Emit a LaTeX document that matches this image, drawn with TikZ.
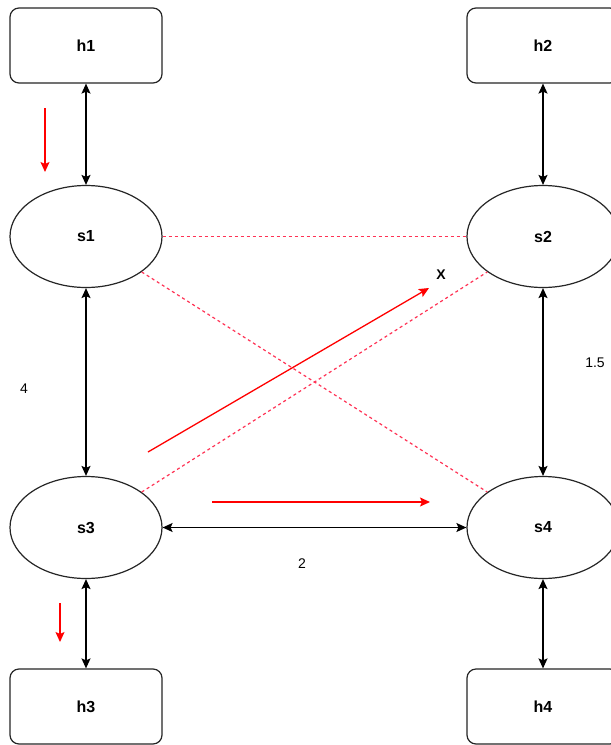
\documentclass[tikz,border=0pt]{standalone}
\usepackage{fontspec}
\setmainfont{Liberation Sans}
\usetikzlibrary{arrows.meta,shapes.geometric}
\definecolor{lnk}{HTML}{FF3355}
\begin{document}
\begin{tikzpicture}[x=1pt,y=-1pt,
  hostbox/.style={draw=black!85, line width=1.2pt, rounded corners=9pt, minimum width=152pt, minimum height=75pt, inner sep=0pt, font=\bfseries\fontsize{16}{16}\selectfont},
  switchnode/.style={ellipse, draw=black!85, line width=1.2pt, minimum width=152pt, minimum height=102pt, inner sep=0pt, font=\bfseries\fontsize{16}{16}\selectfont},
  biarrow/.style={black, line width=1.3pt, {Stealth[length=10pt,width=9pt,inset=2pt]}-{Stealth[length=10pt,width=9pt,inset=2pt]}},
  flow/.style={red, line width=1.3pt, -{Stealth[length=10pt,width=9pt,inset=2pt]}},
  redlink/.style={lnk, line width=1.2pt, dash pattern=on 3pt off 3pt},
  weight/.style={font=\fontsize{14}{14}\selectfont, inner sep=0pt}
]
\useasboundingbox (0,0) rectangle (611,745);
\fill[white] (0,0) rectangle (611,745);

\node[hostbox] (h1) at (86,45.5) {h1};
\node[hostbox] (h2) at (543,45.5) {h2};
\node[hostbox] (h3) at (86,706.5) {h3};
\node[hostbox] (h4) at (543,706.5) {h4};

\node[switchnode] (s1) at (86,236.5) {s1};
\node[switchnode] (s2) at (543,236.5) {s2};
\node[switchnode] (s3) at (86,527.5) {s3};
\node[switchnode] (s4) at (543,527.5) {s4};

\draw[redlink] (s1) -- (s2);
\draw[redlink] (s1) -- (s4);
\draw[redlink] (s3) -- (s2);

\draw[biarrow] (h1) -- (s1);
\draw[biarrow] (h2) -- (s2);
\draw[biarrow] (s1) -- (s3);
\draw[biarrow] (s2) -- (s4);
\draw[biarrow] (s3) -- (s4);
\draw[biarrow] (s3) -- (h3);
\draw[biarrow] (s4) -- (h4);

\coordinate (a1s) at (45,108);
\coordinate (a1e) at (45,172);
\coordinate (a2s) at (60,603);
\coordinate (a2e) at (60,642);
\coordinate (a3s) at (148,452);
\coordinate (a3e) at (429,288);
\coordinate (a4s) at (212,502);
\coordinate (a4e) at (430,502);
\draw[flow] (a1s) -- (a1e);
\draw[flow] (a2s) -- (a2e);
\draw[flow] (a3s) -- (a3e);
\draw[flow] (a4s) -- (a4e);

\node[font=\bfseries\fontsize{14}{14}\selectfont, inner sep=0pt] (xl) at (441,275) {X};
\node[weight] (w13) at (24,389) {4};
\node[weight] (w24) at (595,363) {1.5};
\node[weight] (w34) at (302,564) {2};
\end{tikzpicture}
\end{document}
